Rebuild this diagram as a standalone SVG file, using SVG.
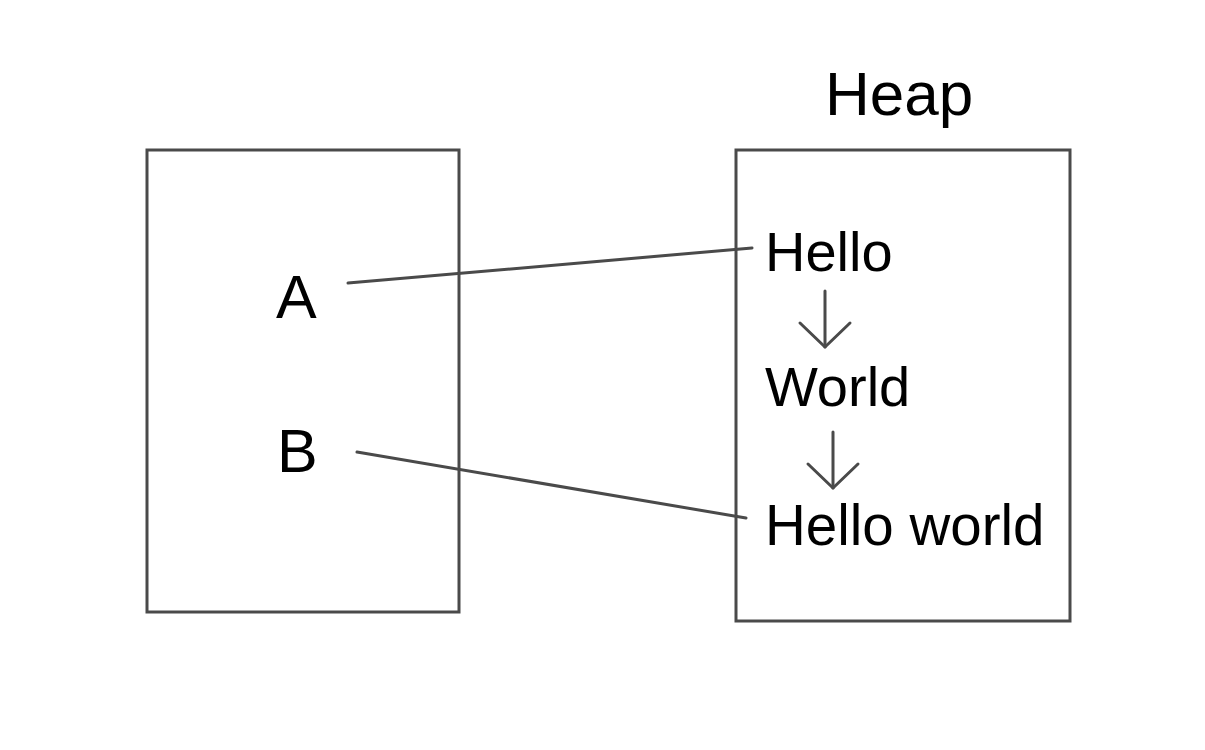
<svg xmlns="http://www.w3.org/2000/svg" width="1205" height="750" viewBox="0 0 1205 750">
<style>
.box{fill:none;stroke:#4a4a4a;stroke-width:3}
.lbl{font-family:"Liberation Sans",Arial,Helvetica,sans-serif;fill:#000}
.conn{fill:none;stroke:#4a4a4a;stroke-width:3;stroke-linecap:round}
</style>
<defs>
<marker id="v" markerUnits="userSpaceOnUse" viewBox="-30 -30 34 60" refX="0" refY="0" markerWidth="34" markerHeight="60" orient="auto" overflow="visible">
<path d="M -24 -25 L 0 0 L -24 25" fill="none" stroke="#4a4a4a" stroke-width="3" stroke-linecap="round" stroke-linejoin="round"/>
</marker>
</defs>
<rect width="1205" height="750" fill="#fff"/>
<g id="stack">
<rect class="box" x="147" y="150" width="312" height="462"/>
<text id="label-a" class="lbl" x="276" y="318" font-size="61">A</text>
<text id="label-b" class="lbl" x="277" y="472" font-size="61">B</text>
</g>
<g id="heap">
<rect class="box" x="736" y="150" width="334" height="471"/>
<text class="lbl" x="825" y="115" font-size="62">Heap</text>
</g>
<g id="hello"><text class="lbl" x="765" y="271" font-size="56">Hello</text></g>
<g id="world"><text class="lbl" x="765" y="406" font-size="56">World</text></g>
<g id="helloworld"><text class="lbl" x="765" y="545" font-size="56.5">Hello world</text></g>
<g id="connectors">
<line class="conn" x1="348" y1="283" x2="752" y2="248"/>
<line class="conn" x1="357" y1="452" x2="746" y2="518"/>
<line class="conn" x1="825" y1="291" x2="825" y2="347" marker-end="url(#v)"/>
<line class="conn" x1="833" y1="432" x2="833" y2="488" marker-end="url(#v)"/>
</g>
</svg>
